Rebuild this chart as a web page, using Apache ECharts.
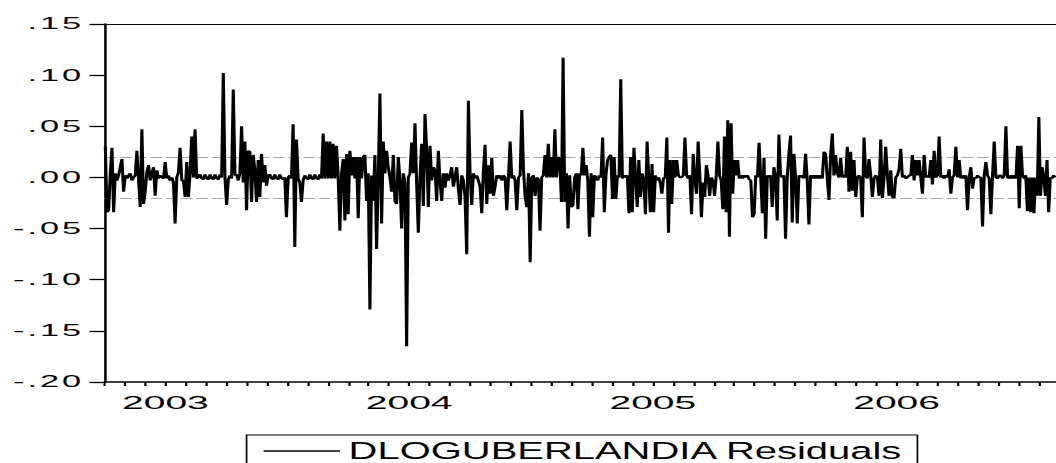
<!DOCTYPE html>
<html>
<head>
<meta charset="utf-8">
<script src="https://cdn.jsdelivr.net/npm/echarts@6/dist/echarts.min.js"></script>
<style>
  html, body { margin: 0; padding: 0; background: #fff; overflow: hidden; }
  /* the reference is a horizontally stretched EViews graph, so the chart is drawn narrow and stretched */
  #chart { width: 621px; height: 463px; transform: scaleX(1.70048); transform-origin: 0 0; }
</style>
</head>
<body>
<div id="chart"></div>
<script>
// residuals, one array per calendar year
var resid2003 = [
  0.030, -0.034, -0.032, 0.004, 0.029, -0.034, 0.004, -0.003, 0.002, 0.010,
  0.018, -0.014, 0.002, -0.001, 0.002, 0.004, -0.003, 0.000, 0.002, 0.026,
  -0.002, -0.029, 0.047, -0.026, -0.014, 0.005, 0.012, -0.003, 0.004, 0.010,
  -0.018, 0.007, -0.001, 0.002, 0.000, -0.001, 0.015, -0.001, 0.002, -0.003,
  0.000, -0.005, -0.045, 0.000, 0.005, 0.029, -0.003, -0.003, -0.019, 0.015,
  -0.019, 0.004, 0.040, 0.000, 0.047, -0.001, 0.000, 0.003, -0.001, -0.002,
  0.003, -0.001, -0.002, 0.003, -0.001, -0.002, 0.003, -0.001, -0.002, 0.003,
  0.000, 0.102, 0.000, -0.027, -0.002, 0.002, -0.001, 0.086, 0.002, 0.003,
  -0.003, 0.004, 0.050, -0.005, 0.035, -0.032, 0.026, 0.025, -0.024, 0.022,
  0.007, -0.024, 0.017, -0.019, 0.023, -0.005, 0.012, -0.008, 0.002, 0.003,
  -0.001, -0.002, 0.003, -0.001, -0.002, 0.003, -0.001, -0.002, 0.000, -0.039
];
var resid2004 = [
  0.000, 0.002, -0.001, 0.052, -0.068, 0.037, -0.001, -0.005, -0.024, -0.003,
  0.002, -0.001, -0.002, 0.003, -0.001, -0.002, 0.003, -0.001, -0.002, 0.003,
  -0.001, 0.043, -0.001, 0.035, -0.001, 0.035, -0.001, 0.033, -0.001,
  0.031, 0.000, -0.052, 0.004, 0.018, -0.042, 0.023, -0.036, 0.026, 0.002, 0.020,
  -0.001, 0.020, -0.040, 0.020, -0.001, 0.020, 0.022, -0.023, 0.004, -0.129,
  0.002, -0.023, 0.022, -0.070, 0.000, 0.082, -0.045, 0.035, 0.004, 0.026,
  0.010, 0.000, -0.014, 0.022, -0.023, -0.026, 0.020, -0.003, -0.050, 0.004,
  -0.005, -0.165, 0.000, 0.004, 0.034, 0.004, 0.053, -0.006, -0.054, 0.000,
  0.033, -0.028, 0.062, 0.026, -0.029, 0.031, -0.003, 0.010, 0.007, -0.023,
  0.026, -0.003, -0.023, 0.004, -0.010, 0.004, -0.003, 0.002, 0.010, -0.009,
  0.000, 0.010, -0.011, -0.027, 0.002, -0.003, -0.019, -0.075, 0.075, 0.004,
  -0.027, 0.004, -0.001, 0.002, -0.003, -0.009, -0.035, 0.007, 0.032, -0.026,
  0.012, -0.016, 0.019, -0.018, -0.009, 0.002, -0.001, 0.002, -0.003, 0.002,
  0.000, -0.032, 0.000, 0.035, -0.001, 0.002, -0.003, -0.032, 0.000, 0.002,
  0.066, 0.007, -0.019, -0.029, 0.004, -0.083
];
var resid2005 = [
  0.000, 0.002, -0.018, 0.000, -0.002, -0.052, 0.000, 0.002,
  0.022, 0.000, 0.033, 0.000, 0.020, 0.000, 0.047, 0.000, 0.020, 0.017, -0.024, 0.117,
  -0.024, 0.004, -0.050, 0.002, -0.029, -0.027, 0.000, 0.004, -0.031, 0.004,
  0.002, 0.029, 0.002, 0.012, -0.003, -0.058, 0.004, -0.039, 0.002, 0.000,
  -0.003, 0.002, 0.000, 0.039, -0.034, 0.002, 0.017, 0.020, 0.022, -0.021,
  0.020, -0.021, 0.002, 0.000, 0.096, -0.001, 0.002, 0.000, 0.002, -0.035,
  0.020, -0.034, 0.029, 0.002, -0.029, 0.017, -0.019, 0.004, -0.003, -0.036,
  0.035, 0.000, -0.034, 0.013, -0.034, 0.002, -0.003, 0.000, -0.005, -0.016,
  0.000, -0.001, 0.039, -0.054, 0.017, -0.026, 0.017, 0.000, 0.017, 0.002, 0.000,
  0.000, 0.002, 0.039, 0.002, -0.001, 0.002, -0.036, 0.023, -0.001, -0.016,
  0.035, 0.002, -0.039, -0.005, -0.019, 0.012, 0.002, -0.018, 0.000, -0.003,
  -0.018, 0.002, 0.035, 0.002, -0.003, -0.031, 0.040, -0.034, 0.056, -0.058,
  0.053, -0.016, 0.017, 0.002, 0.017, -0.001, 0.002, -0.001, 0.002, 0.000,
  0.002, -0.002, -0.003, -0.039, -0.036, 0.002, 0.000, 0.034, 0.000, -0.035,
  0.019, -0.060, 0.002, 0.000, 0.002, -0.029, 0.010
];
var resid2006 = [
  0.000, -0.042, 0.042, 0.002, 0.000, 0.002, -0.060, 0.000, 0.023, 0.041,
  -0.044, 0.023, 0.000, -0.045, 0.002, 0.000, 0.002, -0.001, 0.023, -0.003,
  -0.046, 0.002, -0.001, 0.002, -0.001, 0.002, -0.001, 0.002, -0.001, 0.025,
  0.023, -0.001, -0.022, 0.022, 0.043, 0.002, 0.022, 0.004, 0.000, 0.019,
  0.000, 0.002, 0.000, 0.030, -0.014, 0.025, -0.013, 0.017, -0.019, 0.000,
  0.002, -0.001, -0.039, 0.039, 0.002, -0.001, 0.018, 0.002, -0.019, -0.001,
  0.002, 0.000, -0.018, 0.037, -0.020, 0.000, 0.030, 0.002, -0.018, 0.007,
  -0.019, -0.020, 0.000, 0.002, 0.008, 0.028, 0.000, 0.002, -0.001,
  0.000, 0.002, 0.002, 0.022, -0.003, 0.017, 0.002, 0.017, 0.000, -0.016,
  0.022, 0.000, 0.002, 0.000, 0.017, -0.007, 0.026, 0.000, 0.002, 0.040,
  0.000, 0.002, -0.001, 0.002, 0.000, 0.008, -0.016, 0.000, 0.002, 0.030,
  0.000, 0.017, -0.001, 0.002, -0.001, 0.002, -0.032, 0.000, 0.010, -0.011,
  0.000, -0.001, 0.002, 0.000, 0.000, -0.048, 0.002, 0.015, 0.002, -0.001,
  -0.036, 0.002, 0.035, 0.000, -0.001, 0.002, 0.002, -0.001, 0.002, 0.050,
  0.000, -0.001, 0.002, -0.001, 0.002, -0.001, 0.031
];
var resid2007 = [
  -0.030, 0.031, 0.002, -0.001, 0.002, -0.033, 0.000, -0.034, 0.000, -0.035,
  0.000, -0.018, 0.059, -0.018, 0.010, 0.000, -0.018, 0.017, -0.034, 0.000,
  -0.001, 0.002, 0.000
];

var seriesName = 'DLOGUBERLANDIA Residuals';
var yearLabels = ['2003', '2004', '2005', '2006'];
var seBand = 0.0199; // +/- one standard error

// x axis is in months counted from Jan 2003; sample runs Apr 2003 - end Feb 2007
var xMin = 3, xMax = 49.85;
var yearSpans = [[3, 12, resid2003], [12, 24, resid2004], [24, 36, resid2005], [36, 48, resid2006], [48, 49.85, resid2007]];
var monthTicks = [];
for (var m = 3; m <= 49; m++) monthTicks.push(m);
var yearTicks = [12, 24, 36, 48];
var yearMid = [6, 18, 30, 42];

var points = [];
yearSpans.forEach(function (s) {
  var n = s[2].length;
  s[2].forEach(function (v, j) {
    points.push([s[0] + (j + 0.5) * (s[1] - s[0]) / n, v]);
  });
});

function yFmt(v) {
  if (Math.abs(v) < 1e-9) return '.00';
  var t = v.toFixed(2);
  return t.replace('0.', '.');
}

var chart = echarts.init(document.getElementById('chart'), null, { renderer: 'svg' });
var option = {
  animation: false,
  textStyle: { fontFamily: 'Liberation Sans' },
  grid: { left: 61.45, right: 0, top: 24, bottom: 81 },
  xAxis: [
    {
      type: 'value', min: xMin, max: xMax, position: 'bottom',
      axisLine: { show: true, onZero: false, lineStyle: { color: '#000', width: 1.5 } },
      axisTick: { show: true, customValues: monthTicks, length: 4, lineStyle: { color: '#000', width: 1.3 } },
      axisLabel: {
        show: true, customValues: yearMid, margin: 11, fontSize: 18.5, color: '#000',
        formatter: function (v) { var i = yearMid.indexOf(Math.round(v)); return i >= 0 ? yearLabels[i] : ''; }
      },
      splitLine: { show: false }
    },
    {
      type: 'value', min: xMin, max: xMax, position: 'bottom',
      axisLine: { show: false },
      axisTick: { show: true, customValues: yearTicks, length: 8, lineStyle: { color: '#000', width: 1.3 } },
      axisLabel: { show: false },
      splitLine: { show: false }
    },
    {
      type: 'value', min: xMin, max: xMax, position: 'top',
      axisLine: { show: true, onZero: false, lineStyle: { color: '#000', width: 1 } },
      axisTick: { show: false }, axisLabel: { show: false }, splitLine: { show: false }
    }
  ],
  yAxis: {
    type: 'value', min: -0.2, max: 0.15, interval: 0.05,
    axisLine: { show: true, onZero: false, lineStyle: { color: '#000', width: 1.5 } },
    axisTick: { show: true, length: 8.8, lineStyle: { color: '#000', width: 1.3 } },
    axisLabel: { formatter: yFmt, fontSize: 16.3, color: '#000', margin: 12 },
    splitLine: { show: false }
  },
  legend: {
    left: 145, top: 435,
    padding: [4, 8, 30, 10],
    borderColor: '#000', borderWidth: 1,
    icon: 'rect', itemWidth: 45, itemHeight: 1.5,
    textStyle: { fontSize: 23.5, color: '#000' },
    data: [{ name: seriesName, itemStyle: { color: '#000' } }]
  },
  series: [{
    name: seriesName,
    type: 'line',
    xAxisIndex: 0,
    data: points,
    symbol: 'none',
    z: 3,
    lineStyle: { color: '#000', width: 1.8 },
    itemStyle: { color: '#000' },
    markLine: {
      silent: true, symbol: 'none', z: 1,
      label: { show: false },
      lineStyle: { color: '#aaa', type: [7, 2], width: 1 },
      data: [{ yAxis: seBand }, { yAxis: -seBand }]
    }
  }]
};
chart.setOption(option);

// EViews draws the axis numbers wider than the rest of the graph
function widenLabels() {
  chart.getDom().querySelectorAll('text').forEach(function (t) {
    var s = t.textContent;
    if (s.indexOf('Residuals') >= 0 || t.getAttribute('data-wide')) return;
    var x = parseFloat(t.getAttribute('x')) || 0;
    var y = parseFloat(t.getAttribute('y')) || 0;
    var tr = t.getAttribute('transform') || '';
    t.setAttribute('transform', tr + ' translate(' + x + ' ' + y + ') scale(1.24 1) translate(' + (-x) + ' ' + (-y) + ')');
    t.style.letterSpacing = /^\d{4}$/.test(s) ? '0px' : '1.4px';
    t.setAttribute('data-wide', '1');
  });
}
chart.on('finished', widenLabels);
widenLabels();
</script>
</body>
</html>
